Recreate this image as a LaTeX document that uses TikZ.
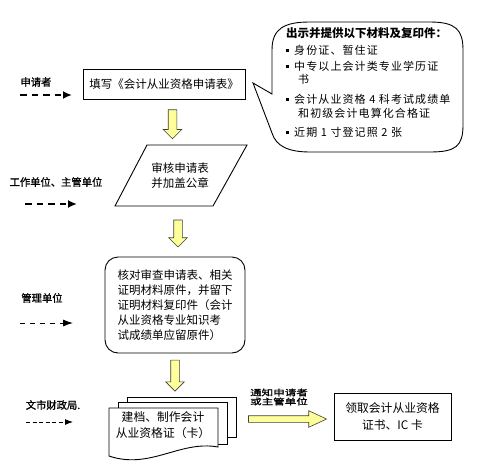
\documentclass[tikz,border=0pt]{standalone}
\usepackage{fontspec}
\setmainfont{Noto Sans CJK SC}
\newfontfamily\cjkwide[LetterSpace=10]{Noto Sans CJK SC}
\newfontfamily\cjklab[FakeBold=1.2]{Noto Sans CJK SC}
\usetikzlibrary{shapes.arrows,arrows.meta,calc}
\definecolor{arrowyellow}{RGB}{255,255,153}
\newcommand\bul{\rule[2pt]{3pt}{3pt}\hspace{5pt}}
\begin{document}
\begin{tikzpicture}[x=1pt,y=-1pt,
  box/.style={draw, line width=0.9pt, inner sep=0pt, align=center},
  txt/.style={font=\fontsize{11.5}{15}\selectfont, inner sep=0pt, align=center},
  ctxt/.style={font=\cjkwide\fontsize{11}{13}\selectfont, inner sep=0pt, anchor=west},
  yarrow/.style={single arrow, draw=black!75, fill=arrowyellow, line width=0.6pt,
    inner sep=4pt, single arrow head extend=5pt, minimum height=29pt,
    shape border rotate=270, single arrow tip angle=90},
  lab/.style={font=\cjklab\fontsize{10.3}{12}\selectfont, inner sep=0pt},
  dashthick/.style={line width=1.8pt, dash pattern=on 6.5pt off 5pt, -{Latex[length=9pt,width=8pt]}},
  dashthin/.style={line width=0.9pt, dash pattern=on 5pt off 5pt, -{Latex[length=10pt,width=7pt]}},
  dashfine/.style={line width=0.9pt, dash pattern=on 4pt off 2.5pt, -{Latex[length=8pt,width=6pt]}},
]
\useasboundingbox (0,0) rectangle (481,471);
\fill[white] (0,0) rectangle (481,471);

% step 1 box
\node[box, txt, minimum width=162pt, minimum height=30pt] (fill) at (164,84) {填写《会计从业资格申请表》};

% callout bubble
\draw[line width=0.9pt, fill=white] (253,83) coordinate (tip) -- (272,94)
  -- (272,50) .. controls (272,28) and (285,22) .. (310,22)
  -- (430,22) .. controls (456,22) and (463,30) .. (463,50)
  -- (463,125) .. controls (463,146) and (456,152) .. (430,152)
  -- (310,152) .. controls (288,152) and (276,146) .. (272,133) -- cycle;
\node[font=\bfseries\fontsize{11.5}{13}\selectfont, inner sep=0pt, anchor=west] (ctitle) at (286,33) {出示并提供以下材料及复印件：};
\node[ctxt] (c1) at (286,50) {\bul 身份证、暂住证};
\node[ctxt] (c2) at (286,66) {\bul 中专以上会计类专业学历证};
\node[ctxt] (c2b) at (298,79) {书};
\node[ctxt] (c3) at (286,99) {\bul 会计从业资格 4 科考试成绩单};
\node[ctxt] (c3b) at (298,113) {和初级会计电算化合格证};
\node[ctxt] (c4) at (286,132) {\bul 近期 1 寸登记照 2 张};

% parallelogram
\node[minimum width=100pt, minimum height=61pt, inner sep=0pt] (par) at (181,175.5) {};
\draw[line width=0.9pt] (147,145) -- (247,145) -- (213,206) -- (115,206) -- cycle;
\node[txt] (audit) at (180,175.5) {审核申请表\\并加盖公章};

% rounded box
\node[box, rounded corners=13pt, minimum width=140pt, minimum height=96pt] (check) at (175,305) {};
\node[txt, align=left] (checktext) at (check.center) {核对审查申请表、相关\\证明材料原件，并留下\\证明材料复印件（会计\\从业资格专业知识考\\试成绩单应留原件）};

% document stack
\node[minimum width=127pt, minimum height=60pt, inner sep=0pt] (docs) at (172.5,427) {};
\draw[line width=0.9pt, fill=white] (127,397) rectangle (236,437);
\draw[line width=0.9pt, fill=white] (118,402) rectangle (227,444);
\draw[line width=0.9pt, fill=white] (109,408) -- (218,408) -- (218,447)
  .. controls (180,440) and (150,470) .. (109,456) -- cycle;
\node[txt, font=\fontsize{11.8}{16}\selectfont] (doctext) at (163,425) {建档、制作会计\\从业资格证（卡）};

% final box
\node[box, txt, font=\fontsize{11.8}{17}\selectfont, minimum width=117pt, minimum height=47pt] (get) at (392.5,416.5) {领取会计从业资格\\证书、IC 卡};

% yellow arrows
\node[yarrow] (a1) at ($(fill.south)!0.5!(par.north)$) {};
\node[yarrow, minimum height=27pt] (a2) at ($(par.south)!0.5!(check.north)$) {};
\node[yarrow, minimum height=31pt] (a3) at (175,373.5) {};
\node[single arrow, draw=black!75, fill=arrowyellow, line width=0.6pt,
  inner sep=3pt, single arrow head extend=5pt, single arrow tip angle=50,
  minimum height=78pt] (a4) at (284,419) {};
\node[font=\cjklab\fontsize{11}{9}\selectfont, inner sep=0pt, align=center] (notice) at (279,397)
  {\scalebox{1.05}[0.75]{通知申请者}\\\scalebox{1.05}[0.75]{或主管单位}};

% left labels and dashed arrows
\node[lab] (l1) at (36,82) {申请者};
\coordinate (d1s) at (20,95); \coordinate (d1e) at (72,95);
\draw[dashthick] (d1s) -- (d1e);
\node[lab] (l2) at (56,182) {工作单位、主管单位};
\coordinate (d2s) at (25,204); \coordinate (d2e) at (77,204);
\draw[dashthick] (d2s) -- (d2e);
\node[lab] (l3) at (42,298) {管理单位};
\coordinate (d3s) at (20,323); \coordinate (d3e) at (73,323);
\draw[dashthin] (d3s) -- (d3e);
\node[lab] (l4) at (53,405) {文市财政局.};
\coordinate (d4s) at (26,422); \coordinate (d4e) at (73,422);
\draw[dashfine] (d4s) -- (d4e);
\end{tikzpicture}
\end{document}
